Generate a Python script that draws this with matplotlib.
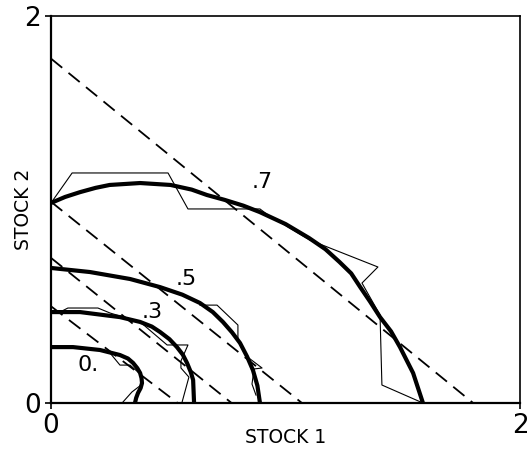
import numpy as np
import matplotlib
matplotlib.use("Agg")
import matplotlib.pyplot as plt

# thick smooth curves (stock 1, stock 2) for each level
c07_x = [0, 0.06, 0.124, 0.19, 0.25, 0.38, 0.51, 0.60, 0.665, 0.74, 0.82, 0.89, 1.0, 1.10, 1.17, 1.23, 1.28, 1.318, 1.36, 1.403, 1.45, 1.488, 1.544, 1.586]
c07_y = [1.034, 1.065, 1.09, 1.112, 1.127, 1.137, 1.127, 1.103, 1.075, 1.05, 1.02, 0.987, 0.925, 0.853, 0.795, 0.729, 0.67, 0.60, 0.525, 0.444, 0.37, 0.289, 0.155, 0]
c05_x = [0, 0.166, 0.337, 0.465, 0.56, 0.635, 0.69, 0.733, 0.772, 0.806, 0.836, 0.861, 0.88, 0.891]
c05_y = [0.698, 0.677, 0.641, 0.599, 0.56, 0.517, 0.47, 0.419, 0.365, 0.31, 0.24, 0.17, 0.09, 0]
c03_x = [0, 0.124, 0.294, 0.38, 0.43, 0.465, 0.505, 0.537, 0.562, 0.58, 0.596, 0.606, 0.61]
c03_y = [0.47, 0.47, 0.444, 0.419, 0.395, 0.367, 0.33, 0.289, 0.25, 0.207, 0.16, 0.119, 0]
c00_x = [0, 0.094, 0.209, 0.294, 0.328, 0.35, 0.368, 0.38, 0.386, 0.388, 0.382, 0.371, 0.363, 0.358]
c00_y = [0.289, 0.289, 0.274, 0.248, 0.23, 0.207, 0.18, 0.155, 0.128, 0.103, 0.077, 0.052, 0.026, 0]

# thin piecewise lines
p07_x = [0, 0.09, 0.499, 0.584, 0.891, 0.925, 1.104, 1.394, 1.326, 1.403, 1.411, 1.586]
p07_y = [1.034, 1.189, 1.189, 1.003, 1.003, 0.972, 0.842, 0.703, 0.620, 0.455, 0.093, 0]
p05_x = [0.635, 0.708, 0.797, 0.797, 0.832, 0.9, 0.866, 0.857, 0.874]
p05_y = [0.506, 0.506, 0.403, 0.326, 0.243, 0.181, 0.176, 0.098, 0.041]
p03_x = [0.038, 0.072, 0.2, 0.252, 0.38, 0.495, 0.584, 0.554, 0.554, 0.588, 0.559]
p03_y = [0.47, 0.491, 0.491, 0.465, 0.419, 0.30, 0.30, 0.217, 0.181, 0.134, 0.005]
p00a_x = [0.209, 0.252, 0.294, 0.337, 0.371]
p00a_y = [0.274, 0.258, 0.196, 0.196, 0.16]
p00b_x = [0.303, 0.345, 0.384]
p00b_y = [0, 0.057, 0.093]

# dashed straight lines: (y intercept, x intercept)
dash_lines = [(1.78, 1.80), (1.04, 1.07), (0.75, 0.77), (0.50, 0.54)]

labels = [".7", ".5", ".3", "0."]
label_x = [0.90, 0.576, 0.43, 0.158]
label_y = [1.14, 0.64, 0.47, 0.196]

fig = plt.figure(figsize=(5.27, 4.51), dpi=100)
ax = fig.add_axes([0.0968, 0.1064, 0.89, 0.858])

for y0, x0 in dash_lines:
    ax.plot([0, x0], [y0, 0], color="black", lw=1.3, dashes=(8, 4.5))

for xs, ys in [(c07_x, c07_y), (c05_x, c05_y), (c03_x, c03_y), (c00_x, c00_y)]:
    ax.plot(xs, ys, color="black", lw=3.0, solid_capstyle="butt", solid_joinstyle="round")

for xs, ys in [(p07_x, p07_y), (p05_x, p05_y), (p03_x, p03_y), (p00a_x, p00a_y), (p00b_x, p00b_y)]:
    ax.plot(xs, ys, color="black", lw=0.8)

for t, x, y in zip(labels, label_x, label_y):
    ax.text(x, y, t, fontsize=16, ha="center", va="center")

ax.set_xlim(0, 2)
ax.set_ylim(0, 2)
ax.set_xticks([0, 2])
ax.set_yticks([0, 2])
ax.set_xticklabels(["0", "2"])
ax.set_yticklabels(["0", "2"])
ax.tick_params(labelsize=19, length=4, width=1.2, pad=3)
for s in ["left", "bottom"]:
    ax.spines[s].set_linewidth(1.6)
for s in ["top", "right"]:
    ax.spines[s].set_linewidth(1.2)

ax.set_xlabel("STOCK 1", fontsize=13.5, labelpad=-8)
ax.set_ylabel("STOCK 2", fontsize=13.5, labelpad=-6)

fig.savefig("out.png", dpi=100)
